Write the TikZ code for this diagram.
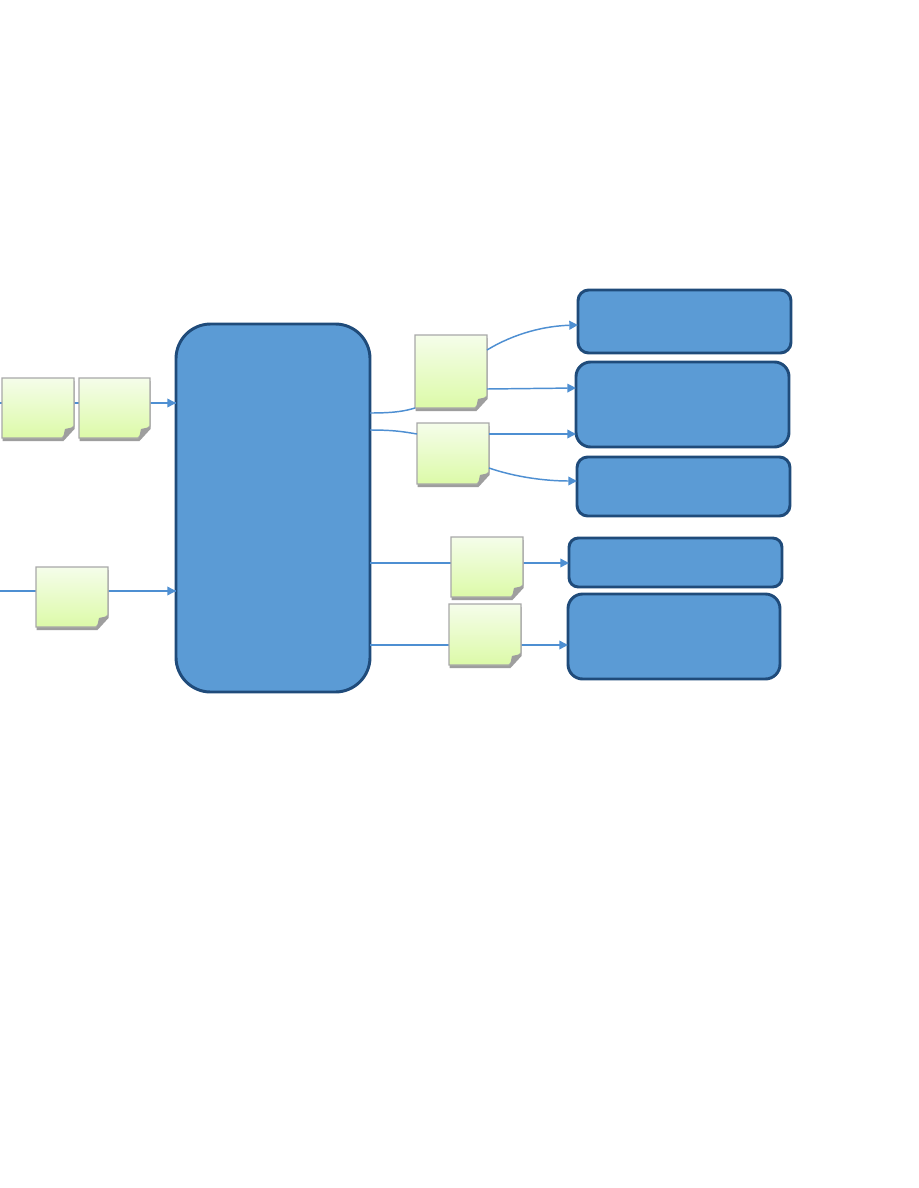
\documentclass[tikz,border=0pt]{standalone}
\usetikzlibrary{calc,arrows.meta}
\definecolor{boxfill}{HTML}{5B9BD5}
\definecolor{boxline}{HTML}{1F4B7A}
\definecolor{conn}{HTML}{4E8FD2}
\definecolor{notetop}{HTML}{F5FDEA}
\definecolor{notebot}{HTML}{DCFAA8}
\definecolor{noteline}{HTML}{A8A8A8}
\definecolor{notesh}{HTML}{9E9E9E}
\tikzset{
  bluebox/.style={draw=boxline, fill=boxfill, line width=2.2pt, inner sep=0pt, outer sep=0pt},
  notebase/.style={inner sep=0pt, outer sep=0pt, minimum width=72, minimum height=60},
  wire/.style={draw=conn, line width=1.1pt, -{Triangle[length=6.5pt,width=6.5pt]}},
  plainwire/.style={draw=conn, line width=1.1pt},
}
\newcommand\stickynote[5]{% name, cx, cy, w, h
  \node[notebase, minimum width=#4*0.75pt, minimum height=#5*0.75pt] (#1) at (#2,#3) {};
  \fill[notesh] ($(#1.north west)+(0.5,3)$) -- ($(#1.north east)+(0.5,3)$) -- ($(#1.south east)+(0.5,-9)$) -- ($(#1.south east)+(-10.5,3)$) -- ($(#1.south west)+(0.5,3)$) -- cycle;
  \shade[top color=notetop, bottom color=notebot, draw=noteline, line width=0.9pt] (#1.north west) -- (#1.north east) -- ($(#1.south east)+(0,-12)$) -- ($(#1.south east)+(-12,0)$) -- (#1.south west) -- cycle;
  \fill[notesh] ($(#1.south east)+(0,-11)$) -- ($(#1.south east)+(-11,0)$) -- ($(#1.south east)+(-9,-9)$) -- cycle;
}
\begin{document}
\begin{tikzpicture}[x=0.75pt,y=-0.75pt]
\useasboundingbox (0,0) rectangle (918,1188);
\fill[white] (0,0) rectangle (918,1188);

% central box
\node[bluebox, rounded corners=26pt, minimum width=194*0.75pt, minimum height=368*0.75pt] (main) at (273,508) {};

% right boxes
\node[bluebox, rounded corners=8pt, minimum width=213*0.75pt, minimum height=63*0.75pt] (b1) at (684.5,321.5) {};
\node[bluebox, rounded corners=11pt, minimum width=213*0.75pt, minimum height=85*0.75pt] (b2) at (682.5,404.5) {};
\node[bluebox, rounded corners=8pt, minimum width=213*0.75pt, minimum height=59*0.75pt] (b3) at (683.5,486.5) {};
\node[bluebox, rounded corners=7pt, minimum width=213*0.75pt, minimum height=49*0.75pt] (b4) at (675.5,562.5) {};
\node[bluebox, rounded corners=11pt, minimum width=212*0.75pt, minimum height=85*0.75pt] (b5) at (674,636.5) {};

% left free ends
\coordinate (in1) at (0,403);
\coordinate (in2) at (0,591);

% input connectors (drawn first, notes on top)
\draw[plainwire] (in1) -- (main.west |- in1);
\draw[wire] (in1 -| 150,0) -- (main.west |- in1);
\draw[plainwire] (in2) -- (main.west |- in2);
\draw[wire] (in2 -| 108,0) -- (main.west |- in2);

\coordinate (m1) at (main.east |- 0,413);
\coordinate (m2) at (main.east |- 0,430);
\coordinate (m3) at (main.east |- 0,563);
\coordinate (m4) at (main.east |- 0,645);

% output connectors behind the lower notes
\draw[wire] (m3) -- (b4.west |- m3);
\draw[wire] (m4) -- (b5.west |- m4);

% sticky notes
\stickynote{l1}{38}{408}{72}{60}
\stickynote{l2}{114.5}{408}{71}{60}
\stickynote{l3}{72}{597}{72}{60}
\stickynote{n1}{451}{371.5}{72}{73}
\stickynote{n2}{453}{453.5}{72}{61}
\stickynote{n3}{487}{567}{72}{60}
\stickynote{n4}{485}{634.5}{72}{61}

% output connectors through the upper notes
\draw[plainwire] (m1) .. controls (395,413) and (405,411) .. (n1.south west);
\draw[plainwire] (m2) .. controls (395,430) and (405,432) .. (n2.west |- 0,434);
\draw[wire] (n1.east |- 0,350) .. controls (515,333) and (545,326) .. (b1.west |- 0,325);
\draw[wire] (n1.east |- 0,389) -- (b2.west |- 0,388);
\draw[wire] (n2.east |- 0,434) -- (b2.west |- 0,434);
\draw[wire] (n2.east |- 0,468) .. controls (515,477) and (545,481) .. (b3.west |- 0,481);
\end{tikzpicture}
\end{document}
